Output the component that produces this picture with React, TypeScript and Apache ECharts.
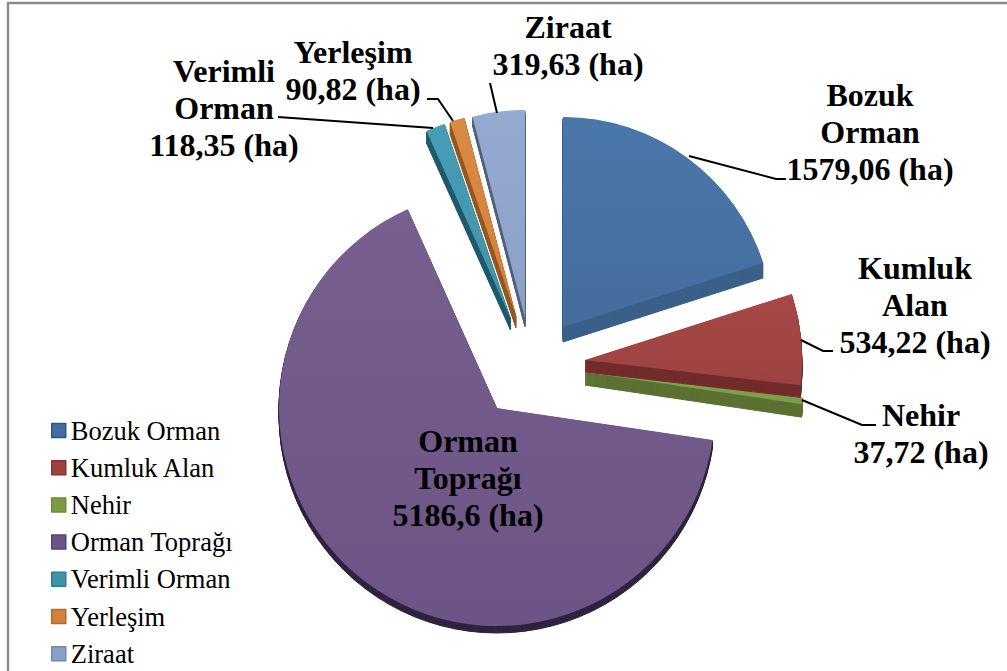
import React, { useEffect, useRef } from "react";
import * as echarts from "echarts";

const categories = ["Bozuk Orman", "Kumluk Alan", "Nehir", "Orman Toprağı", "Verimli Orman", "Yerleşim", "Ziraat"];
const areas = [1579.06, 534.22, 37.72, 5186.6, 118.35, 90.82, 319.63];
const labelTexts = [
  "Bozuk\nOrman\n1579,06 (ha)",
  "Kumluk\nAlan\n534,22 (ha)",
  "Nehir\n37,72 (ha)",
  "Orman\nToprağı\n5186,6 (ha)",
  "Verimli\nOrman\n118,35 (ha)",
  "Yerleşim\n90,82 (ha)",
  "Ziraat\n319,63 (ha)",
];
const topLight = ["#4a77aa", "#a64846", "#84a64c", "#77608f", "#469db5", "#db8a43", "#94aad0"];
const topDark = ["#446d9d", "#9c4341", "#7b9c47", "#6c5486", "#4292a8", "#d2803b", "#8ba0c6"];
const sideColors = ["#3b6089", "#732c2b", "#5c7133", "#2f2340", "#1f5b6c", "#955823", "#55607a"];
const legendBorders = ["#2f5687", "#8a3230", "#6d8a38", "#55407a", "#2e7f96", "#b8692c", "#7388b0"];

// slice layout: centre x, centre y, radius, extrusion depth
const cx = [563, 585, 585, 497, 510.5, 516, 525];
const cy = [327, 360, 372, 408, 318, 316, 318];
const radii = [210, 217, 219, 218, 205, 205, 208];
const depth = [15, 12, 13, 7, 12, 12, 9];
// painting order, back to front
const paintOrder = [6, 5, 4, 3, 0, 2, 1];
// label anchor: centre x, centre y
const labelX = [870, 915, 921, 468, 224, 353, 568];
const labelY = [132, 305, 433, 478, 108, 70, 45];
const leaders: number[][][] = [
  [[689, 156], [776, 179], [786, 179]],
  [[801, 340], [823, 351], [833, 351]],
  [[802, 400], [862, 425], [876, 425]],
  [],
  [[433, 128], [278, 117]],
  [[453, 121], [438, 99], [427, 99]],
  [[497, 113], [490, 83]],
];

const total = areas.reduce((a, b) => a + b, 0);

function sliceSeries(i: number, start: number, drop: number) {
  const side = drop > 0;
  const color = side
    ? sideColors[i]
    : {
        type: "linear",
        x: 0,
        y: 0,
        x2: 0,
        y2: 1,
        colorStops: [
          { offset: 0, color: topLight[i] },
          { offset: 1, color: topDark[i] },
        ],
      };
  const name = side ? categories[i] + " (yan)" : categories[i];
  return {
    type: "pie",
    name,
    silent: true,
    clockwise: true,
    startAngle: 90 - start,
    center: [cx[i], cy[i] + drop],
    radius: radii[i],
    label: { show: false },
    labelLine: { show: false },
    emphasis: { disabled: true },
    data: [
      {
        name,
        value: areas[i],
        itemStyle: side ? { color, borderColor: sideColors[i], borderWidth: 1 } : { color },
      },
      { name: "", value: total - areas[i], itemStyle: { color: "rgba(0,0,0,0)" } },
    ],
  };
}

export default function App() {
  const ref = useRef<HTMLDivElement>(null);
  useEffect(() => {
    const chart = echarts.init(ref.current!, undefined, { renderer: "svg" });
    const starts: number[] = [];
    let acc = 0;
    areas.forEach((v) => {
      starts.push((acc / total) * 360);
      acc += v;
    });
    const series: any[] = [];
    paintOrder.forEach((i) => {
      for (let d = depth[i]; d >= 0; d--) {
        series.push(sliceSeries(i, starts[i], d));
      }
    });
    const graphic: any[] = [
      {
        type: "rect",
        z: -1,
        shape: { x: 8, y: 3, width: 1200, height: 900 },
        style: { fill: "#fff", stroke: "#8a8a8a", lineWidth: 2.4 },
      },
    ];
    leaders.forEach((pts) => {
      if (pts.length) {
        graphic.push({
          type: "polyline",
          z: 20,
          shape: { points: pts },
          style: { fill: "none", stroke: "#000", lineWidth: 2 },
        });
      }
    });
    labelTexts.forEach((t, i) => {
      graphic.push({
        type: "text",
        z: 30,
        x: labelX[i],
        y: labelY[i],
        style: {
          text: t,
          fill: "#000",
          font: 'bold 32px "Liberation Serif"',
          lineHeight: 37,
          align: "center",
          verticalAlign: "middle",
        },
      });
    });
    chart.setOption({
      animation: false,
      backgroundColor: "#fff",
      legend: {
        orient: "vertical",
        left: 46,
        top: 412,
        height: 300,
        itemWidth: 14,
        itemHeight: 14,
        itemGap: 10.2,
        selectedMode: false,
        icon: "rect",
        textStyle: { fontFamily: "Liberation Serif", fontSize: 26.5, color: "#000" },
        data: categories.map((name, i) => ({
          name,
          itemStyle: { borderColor: legendBorders[i], borderWidth: 1.5, color: topDark[i] },
        })),
      },
      series,
      graphic,
    });
    return () => chart.dispose();
  }, []);
  return <div ref={ref} style={{ position: "fixed", left: 0, top: 0, width: 1007, height: 671 }} />;
}
